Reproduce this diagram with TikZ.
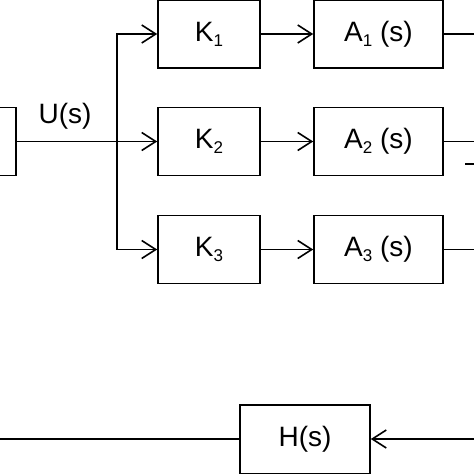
\documentclass[tikz,border=0pt]{standalone}
\usepackage{fontspec}
\setmainfont{Liberation Sans}
\usetikzlibrary{arrows.meta}
\newcommand{\mysub}[1]{\raisebox{-5pt}{\fontsize{17pt}{17pt}\selectfont #1}}
\begin{document}
\begin{tikzpicture}[x=1pt,y=-1pt,
  line width=1.6pt,
  blk/.style={draw, line width=1.6pt, minimum height=68pt, inner sep=0pt,
              font=\fontsize{28pt}{30pt}\selectfont},
  kblk/.style={blk, minimum width=102pt},
  ablk/.style={blk, minimum width=129pt},
  lbl/.style={inner sep=0pt, font=\fontsize{28pt}{30pt}\selectfont},
  arr/.style={-{Straight Barb[length=14pt,width=18pt,line width=1.6pt]}}]
\useasboundingbox (0,0) rectangle (474,474);
\clip (0,0) rectangle (474,474);
% left block (mostly outside the picture)
\node[blk, minimum width=92pt] (G) at (-30,141.5) {};
\node[lbl] (U) at (65,116) {U(s)};
% gain blocks
\node[kblk] (K1) at (209,34) {K\mysub{1}};
\node[kblk] (K2) at (209,141.5) {K\mysub{2}};
\node[kblk] (K3) at (209,249.5) {K\mysub{3}};
% transfer blocks
\node[ablk] (A1) at (378.5,34) {A\mysub{1} (s)};
\node[ablk] (A2) at (378.5,141.5) {A\mysub{2} (s)};
\node[ablk] (A3) at (378.5,249.5) {A\mysub{3} (s)};
% feedback block
\node[blk, minimum width=130pt, minimum height=69pt] (H) at (305,439.5) {H(s)};
% coordinates
\coordinate (split) at (117,141.5);
\coordinate (o1) at (485,34);
\coordinate (o2) at (485,141.5);
\coordinate (o3) at (485,249.5);
\coordinate (fbin) at (485,439);
\coordinate (fbout) at (-10,439);
\coordinate (m1) at (465,164);
\coordinate (m2) at (480,164);
% connectors
\draw[arr] (G.east) -- (K2.west);
\draw[arr] (split) |- (K1.west);
\draw[arr] (split) |- (K3.west);
\draw[arr] (K1) -- (A1);
\draw[arr] (K2) -- (A2);
\draw[arr] (K3) -- (A3);
\draw (A1.east) -- (o1);
\draw (A2.east) -- (o2);
\draw (A3.east) -- (o3);
\draw (m1) -- (m2);
\draw[arr] (fbin) -- (H.east |- fbin);
\draw (H.west |- fbout) -- (fbout);
\end{tikzpicture}
\end{document}
